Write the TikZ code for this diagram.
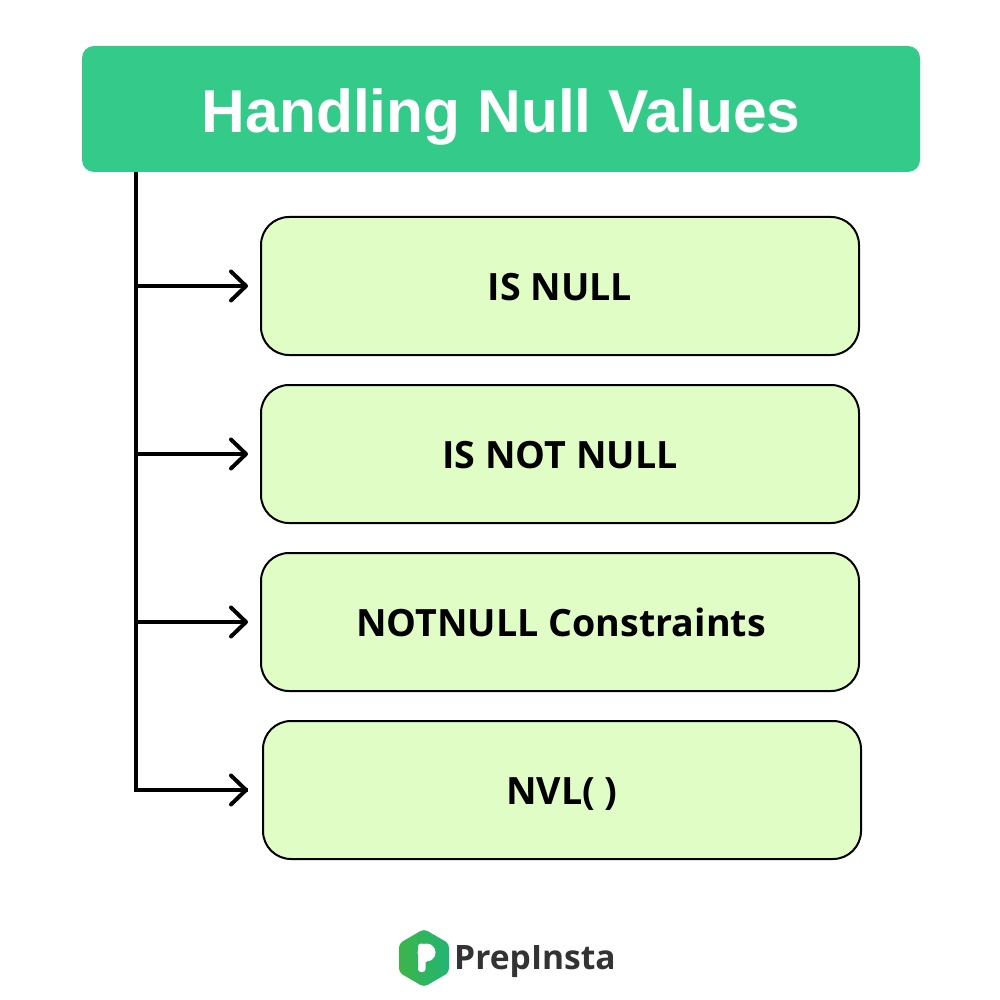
\documentclass[tikz,border=0pt]{standalone}
\usepackage{fontspec}
\setmainfont{Open Sans}
\newfontfamily\titlefont{Liberation Sans}
\usetikzlibrary{arrows.meta}
\definecolor{headgreen}{HTML}{34CB8A}
\definecolor{boxgreen}{HTML}{DFFDC5}
\definecolor{logodark}{HTML}{333333}
\definecolor{logoa}{HTML}{3DB54A}
\definecolor{logob}{HTML}{21B573}
\tikzset{
  header/.style={fill=headgreen,draw=none,rounded corners=12pt,minimum width=838pt,minimum height=126pt,inner sep=0pt,text=white,text height=48pt,text depth=0pt,font=\titlefont\bfseries\fontsize{60.5}{70}\selectfont},
  item/.style={fill=boxgreen,draw=black,line width=2pt,rounded corners=28pt,minimum width=598pt,minimum height=138pt,inner sep=0pt,text=black,text height=28.8pt,text depth=0pt,font=\bfseries\fontsize{37.6}{42}\selectfont},
  trunk/.style={line width=4pt,draw=black},
  branch/.style={line width=4pt,draw=black,-{Straight Barb[length=15pt,width=29pt,line cap=round,round]}},
}
\begin{document}
\begin{tikzpicture}[x=1pt,y=-1pt]
\useasboundingbox (0,0) rectangle (1000,1000);
\fill[white] (0,0) rectangle (1000,1000);
\node[header] (head) at (501,109) {Handling Null Values};
\node[item] (a) at (560,286) {IS NULL};
\node[item] (b) at (560,454) {IS NOT NULL};
\node[item] (c) at (560,622) {\hspace*{2pt}NOTNULL Constraints};
\node[item] (d) at (562,790) {NVL( )};
\coordinate (top) at (136,172);
\coordinate (ca) at (136,286);
\coordinate (cb) at (136,454);
\coordinate (cc) at (136,622);
\coordinate (cd) at (136,790);
\coordinate (ea) at (248,286);
\coordinate (eb) at (248,454);
\coordinate (ec) at (248,622);
\coordinate (ed) at (248,790);
\draw[trunk,line join=miter] (top) -- (cd) -- (ed);
\draw[branch] (ca) -- (ea);
\draw[branch] (cb) -- (eb);
\draw[branch] (cc) -- (ec);
\draw[branch] (cd) -- (ed);
% logo
\shade[left color=logoa,right color=logob,rounded corners=4pt]
  (424,929) -- (449,943.5) -- (449,972.5) -- (424,987) -- (399,972.5) -- (399,943.5) -- cycle;
\fill[white] (426.5,952.5) circle (9);
\fill[white,rounded corners=3pt] (418,943.5) rectangle (425.5,972);
\fill[white] (421,943.5) rectangle (426.5,961.5);
\node[text=logodark,anchor=west,inner sep=0pt,font=\bfseries\fontsize{33.6}{40}\selectfont] (logo) at (454,962) {PrepInsta};
\end{tikzpicture}
\end{document}
